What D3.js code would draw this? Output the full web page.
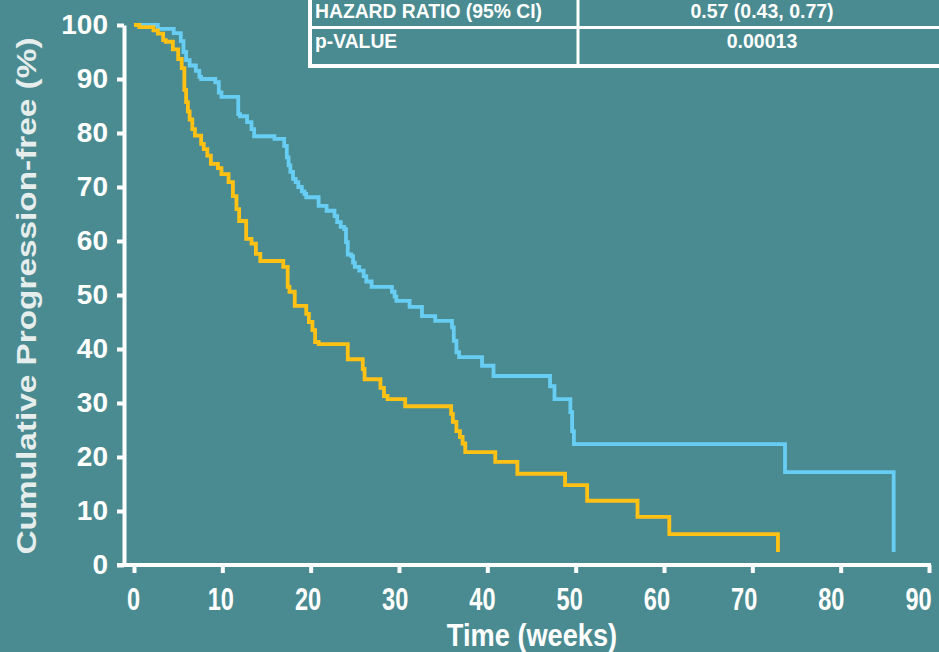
<!DOCTYPE html>
<html>
<head>
<meta charset="utf-8">
<script src="https://cdn.jsdelivr.net/npm/d3@7"></script>
<style>
  body { margin: 0; background: #4a8b91; }
  svg { display: block; font-family: "Liberation Sans", Arial, sans-serif; font-weight: bold; }
</style>
</head>
<body>
<svg id="chart" width="939" height="652"></svg>
<script>
// Kaplan-Meier steps (weeks, % progression-free)
const blueWeeks = [0, 2.7, 4.5, 5.3, 5.6, 5.9, 6.3, 7, 7.4, 7.6, 9.2, 9.6, 9.9, 11.8, 12, 12.8, 13.3, 13.6, 15.9, 17,
  17.3, 17.5, 17.7, 18, 18.3, 18.6, 19, 19.3, 19.5, 20.9, 21.8, 22.7, 23, 23.4, 23.8, 24, 24.2, 24.6, 24.8, 25,
  25.5, 26, 26.3, 26.9, 29.2, 29.5, 29.7, 31.2, 32.6, 34.1, 36, 36.2, 36.5, 36.8, 39.4, 40.7, 47.1, 47.6, 49.4, 49.6,
  49.8, 73.7, 86];
const bluePct = [100, 99.3, 98.5, 97, 95, 93.5, 92.5, 91.5, 90.4, 90, 89.4, 87.5, 86.7, 83.5, 83.1, 82, 80.7, 79.4, 78.9, 77.6,
  75.5, 74, 72.8, 71.5, 70.9, 70, 69.2, 68.7, 68.1, 66.5, 65.6, 64.6, 63.5, 62.6, 62.2, 59.8, 57.5, 57.2, 56, 55.2,
  54.5, 53.5, 52.5, 51.5, 50.6, 49.7, 48.9, 47.8, 46.1, 45.2, 44, 41.5, 39.4, 38.5, 36.9, 35, 33.1, 30.7, 28.3, 24.8,
  22.4, 17.2, 2.4];

const orangeWeeks = [0, 0.6, 2.2, 2.7, 3.3, 3.6, 4.4, 5, 5.4, 5.7, 5.9, 6.1, 6.3, 6.6, 6.9, 7.6, 7.9, 8.3, 8.7, 9.5,
  9.9, 10.7, 11.2, 11.6, 11.9, 12.7, 13.3, 13.8, 14.3, 16.9, 17.4, 17.6, 18.2, 19.5, 19.8, 20.2, 20.5, 20.9, 24.2, 25.9,
  26.1, 27.9, 28.3, 28.7, 30.7, 35.9, 36.1, 36.5, 36.9, 37.2, 37.5, 40.9, 43.4, 48.8, 51.3, 57, 60.6, 72.9];
const orangePct = [100, 99.6, 99, 98.4, 97.2, 96.9, 95.5, 93.7, 92, 88, 85.7, 84, 82.5, 80.7, 79.5, 78, 77, 75.8, 74.3, 73.5,
  72.4, 70.9, 68.3, 65.9, 63.7, 60.4, 59.5, 57.6, 56.3, 55.2, 51.5, 50.6, 48, 46.5, 45, 43.5, 41.3, 40.9, 38.1, 36.3,
  34.4, 32.8, 31.3, 30.7, 29.4, 28, 26.5, 24.8, 23.7, 22.5, 20.9, 19.1, 16.9, 14.8, 11.9, 8.9, 5.7, 2.4];

const xTicks = [0, 10, 20, 30, 40, 50, 60, 70, 80, 90];
const yTicks = [0, 10, 20, 30, 40, 50, 60, 70, 80, 90, 100];
const tableLabels = ["HAZARD RATIO (95% CI)", "p-VALUE"];
const tableValues = ["0.57 (0.43, 0.77)", "0.00013"];

const svg = d3.select("#chart");
const W = 939, H = 652;

svg.append("rect").attr("width", W).attr("height", H).attr("fill", "#4a8b91");

const x = d3.scaleLinear().domain([0, 90]).range([134, 929]);
const y = d3.scaleLinear().domain([0, 100]).range([565, 25]);

// y axis
const yAxis = svg.append("g").attr("transform", "translate(124,0)")
  .call(d3.axisLeft(y).tickValues(yTicks).tickSize(7).tickSizeOuter(0).tickPadding(9));
yAxis.select(".domain").attr("stroke", "#fff").attr("stroke-width", 4);
yAxis.selectAll(".tick line").attr("stroke", "#fff").attr("stroke-width", 4);
yAxis.selectAll(".tick text")
  .attr("fill", "#fff").attr("font-size", 28).attr("font-weight", "bold")
  .attr("font-family", "Liberation Sans, Arial, sans-serif")
  .attr("dy", "0.3em");

// x axis (labels sit a little left of their ticks in the original, more so to the right)
const xAxis = svg.append("g").attr("transform", "translate(0,565)")
  .call(d3.axisBottom(x).tickValues(xTicks).tickSize(8).tickSizeOuter(0));
xAxis.select(".domain").remove();
xAxis.append("line").attr("x1", 117).attr("x2", 931).attr("stroke", "#fff").attr("stroke-width", 4);
xAxis.selectAll(".tick line").attr("stroke", "#fff").attr("stroke-width", 4);
xAxis.selectAll(".tick text")
  .attr("fill", "#fff").attr("font-size", 31).attr("font-weight", "bold")
  .attr("font-family", "Liberation Sans, Arial, sans-serif")
  .attr("y", 45).attr("dy", 0)
  .attr("transform", d => `translate(${-1 - 0.11 * d},0) scale(0.76,1)`);

// axis titles
svg.append("text")
  .attr("transform", "translate(532,646) scale(0.85,1)")
  .attr("text-anchor", "middle").attr("fill", "#fff").attr("font-size", 32)
  .text("Time (weeks)");

svg.append("text")
  .attr("transform", "translate(36,296) rotate(-90)")
  .attr("text-anchor", "middle").attr("fill", "#e6eded").attr("font-size", 28)
  .attr("textLength", 517).attr("lengthAdjust", "spacingAndGlyphs")
  .text("Cumulative Progression-free (%)");

// curves
const km = d3.line()
  .x(d => x(d[0]))
  .y(d => y(d[1]))
  .curve(d3.curveStepAfter);

const series = [
  { color: "#68cdf3", pts: d3.zip(blueWeeks, bluePct) },
  { color: "#ffc114", pts: d3.zip(orangeWeeks, orangePct) }
];
svg.selectAll("path.km").data(series).enter().append("path")
  .attr("class", "km")
  .attr("fill", "none")
  .attr("stroke", d => d.color)
  .attr("stroke-width", 3.8)
  .attr("d", d => km(d.pts));

// stats table (top right, partly cut off)
const tbl = svg.append("g");
tbl.append("rect").attr("x", 310).attr("y", -12).attr("width", 640).attr("height", 78)
  .attr("fill", "none").attr("stroke", "#fff").attr("stroke-width", 4);
tbl.append("line").attr("x1", 310).attr("x2", 950).attr("y1", 27.5).attr("y2", 27.5)
  .attr("stroke", "#fff").attr("stroke-width", 3);
tbl.append("line").attr("x1", 578).attr("x2", 578).attr("y1", -12).attr("y2", 66)
  .attr("stroke", "#fff").attr("stroke-width", 3);

const rowBase = [17.5, 48];
tableLabels.forEach((t, i) => {
  tbl.append("text")
    .attr("transform", `translate(315,${rowBase[i]}) scale(0.92,1)`)
    .attr("fill", "#fff").attr("font-size", 21).text(t);
  tbl.append("text")
    .attr("transform", `translate(762,${rowBase[i]}) scale(0.93,1)`)
    .attr("text-anchor", "middle")
    .attr("fill", "#fff").attr("font-size", 21).text(tableValues[i]);
});
</script>
</body>
</html>
